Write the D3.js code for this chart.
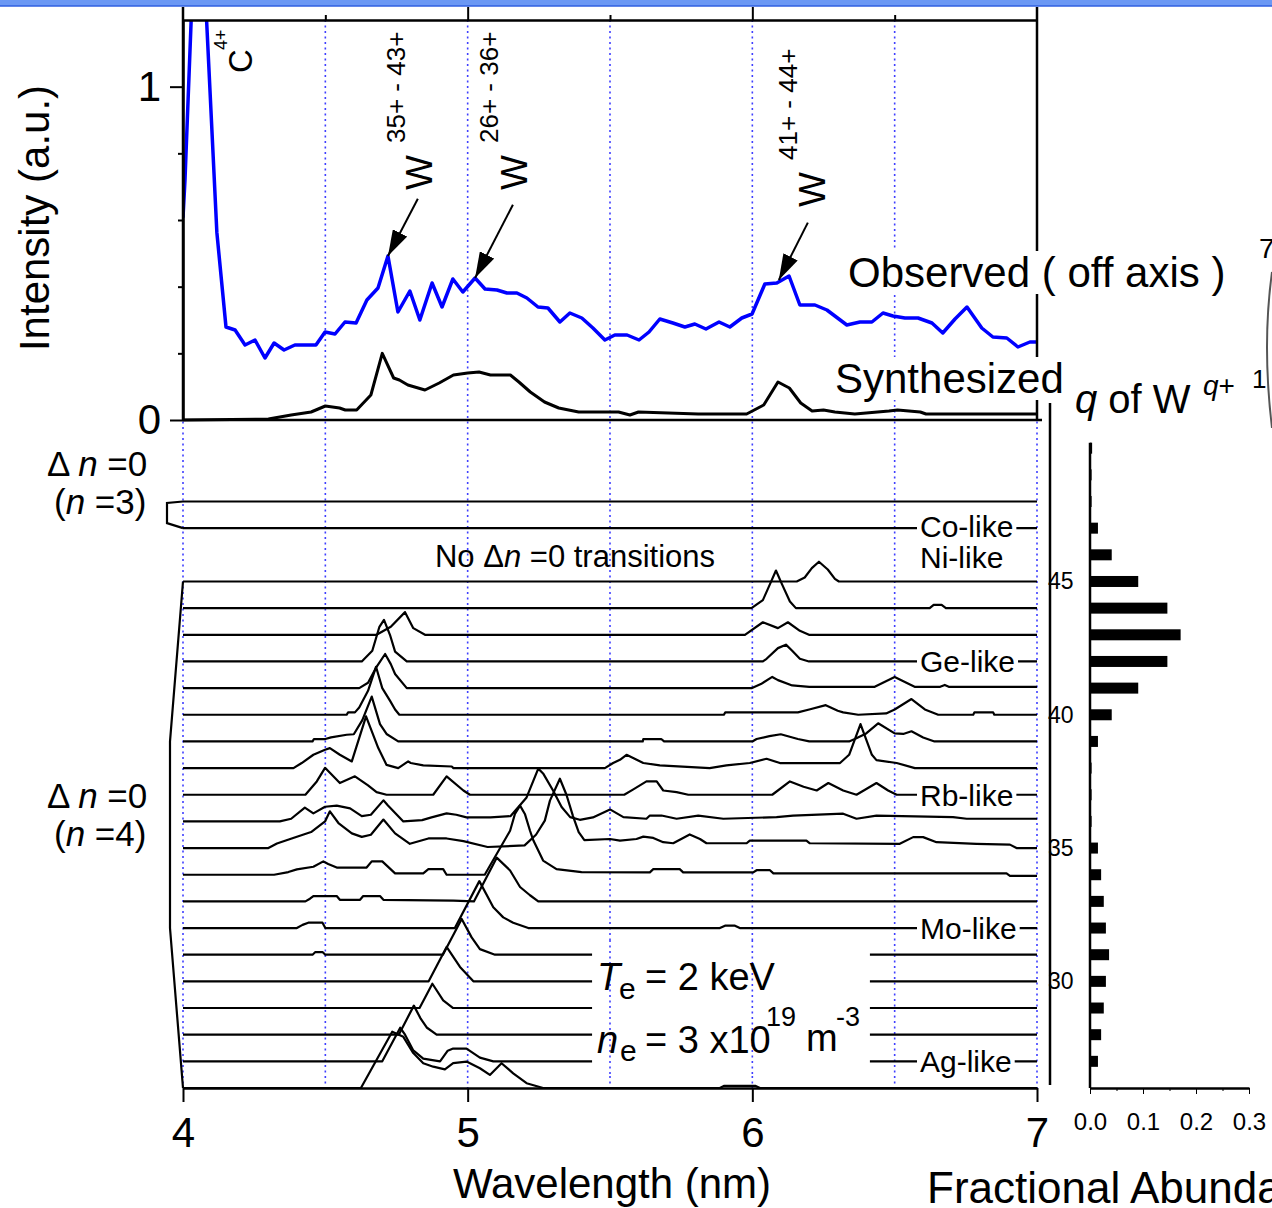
<!DOCTYPE html>
<html>
<head>
<meta charset="utf-8">
<script src="https://cdn.jsdelivr.net/npm/d3@7"></script>
<style>
  body { margin: 0; background: #fff; }
  svg { display: block; font-family: "Liberation Sans", Arial, sans-serif; }
</style>
</head>
<body>
<div id="chart"></div>
<script>
// ---------------- data ----------------
// observed spectrum (off axis), [wavelength nm, intensity a.u.]
const observed = [
  [4.000,0.607],[4.007,0.72],[4.040,1.45],[4.060,1.60],[4.080,1.25],[4.119,0.562],[4.151,0.279],
  [4.183,0.270],[4.218,0.225],[4.253,0.240],[4.288,0.186],[4.320,0.231],[4.355,0.210],[4.393,0.225],
  [4.430,0.225],[4.467,0.225],[4.499,0.264],[4.534,0.258],[4.569,0.294],[4.608,0.291],[4.646,0.360],
  [4.685,0.396],[4.720,0.492],[4.755,0.324],[4.797,0.387],[4.832,0.300],[4.875,0.411],[4.910,0.339],
  [4.948,0.423],[4.983,0.384],[5.026,0.426],[5.061,0.393],[5.103,0.390],[5.138,0.381],[5.173,0.381],
  [5.208,0.366],[5.247,0.339],[5.282,0.336],[5.324,0.294],[5.359,0.321],[5.401,0.306],[5.440,0.276],
  [5.482,0.240],[5.517,0.255],[5.560,0.255],[5.602,0.240],[5.637,0.264],[5.675,0.303],[5.721,0.291],
  [5.763,0.279],[5.798,0.288],[5.837,0.273],[5.883,0.294],[5.921,0.279],[5.963,0.306],[5.999,0.318],
  [6.044,0.408],[6.086,0.411],[6.129,0.432],[6.167,0.345],[6.220,0.345],[6.262,0.330],[6.332,0.285],
  [6.378,0.294],[6.420,0.294],[6.459,0.321],[6.494,0.312],[6.536,0.306],[6.582,0.306],[6.631,0.291],
  [6.669,0.261],[6.712,0.303],[6.754,0.339],[6.806,0.276],[6.845,0.249],[6.894,0.246],[6.933,0.219],
  [6.975,0.234],[7.000,0.234]
];

// synthesized spectrum
const synthesized = [
  [4.00,0.0],[4.30,0.003],[4.32,0.006],[4.38,0.015],[4.45,0.024],[4.50,0.042],[4.55,0.036],[4.57,0.030],
  [4.61,0.030],[4.66,0.075],[4.70,0.200],[4.74,0.126],[4.76,0.120],[4.79,0.105],[4.85,0.090],[4.90,0.111],
  [4.95,0.135],[5.00,0.141],[5.04,0.144],[5.08,0.135],[5.15,0.135],[5.18,0.114],[5.22,0.084],[5.27,0.054],
  [5.32,0.036],[5.39,0.024],[5.53,0.024],[5.57,0.015],[5.60,0.024],[5.81,0.018],[5.98,0.018],[6.04,0.045],
  [6.09,0.114],[6.13,0.096],[6.17,0.051],[6.21,0.027],[6.25,0.030],[6.29,0.024],[6.36,0.018],[6.48,0.027],
  [6.51,0.030],[6.59,0.024],[6.61,0.018],[7.00,0.018]
];

// arrows pointing at W features: [tail, tip] in [wavelength, intensity]
const arrowPairs = [
  [[4.825,0.664],[4.720,0.492]],
  [[5.159,0.646],[5.026,0.426]],
  [[6.195,0.592],[6.093,0.420]]
];

// calculated spectra per charge state q of W^q+ : [wavelength, height in baseline steps]
const w48 = [];
const w47 = [];
const w45 = [[6.156,0],[6.184,0.15],[6.209,0.5],[6.234,0.74],[6.265,0.45],[6.29,0.1],[6.304,0]];
const w44 = [[5.997,0],[6.037,0.3],[6.062,0.9],[6.083,1.41],[6.104,0.9],[6.132,0.25],[6.153,0],
  [6.623,0],[6.637,0.12],[6.665,0.12],[6.68,0]];
const w43 = [[4.68,0],[4.73,0.3],[4.78,0.85],[4.809,0.25],[4.85,0],[5.974,0],[6.037,0.47],[6.09,0.25],
  [6.125,0.47],[6.167,0.15],[6.199,0]];
const w42 = [[4.628,0],[4.665,0.4],[4.69,1.3],[4.706,1.56],[4.727,1.0],[4.745,0.37],[4.786,0],[6.037,0],
  [6.05,0.1],[6.09,0.5],[6.118,0.63],[6.14,0.4],[6.167,0.1],[6.199,0]];
const w41 = [[4.619,0],[4.65,0.2],[4.68,0.8],[4.71,1.28],[4.73,0.9],[4.745,0.53],[4.786,0],[5.999,0],
  [6.03,0.15],[6.07,0.42],[6.09,0.3],[6.14,0.1],[6.2,0.05],[6.43,0.05],[6.50,0.42],[6.57,0.05],[6.66,0.05],
  [6.676,0.12],[6.69,0.05],[7,0.05]];
const w40 = [[4.575,0],[4.58,0.09],[4.604,0.09],[4.619,0.27],[4.65,0.9],[4.678,1.8],[4.70,1.0],[4.727,0.53],
  [4.745,0.2],[4.76,0],[5.90,0],[5.905,0.09],[6.16,0.09],[6.20,0.2],[6.258,0.36],[6.30,0.15],[6.319,0.09],
  [6.372,0],[6.47,0.05],[6.50,0.2],[6.559,0.59],[6.606,0.2],[6.653,0],[6.776,0],[6.78,0.09],[6.846,0.09],[6.85,0]];
const w39 = [[4.455,0],[4.46,0.09],[4.50,0.09],[4.52,0.15],[4.575,0.25],[4.60,0.27],[4.63,0.8],[4.663,1.68],
  [4.692,0.65],[4.715,0.28],[4.756,0],[5.615,0],[5.617,0.09],[5.68,0.09],[5.69,0],[6.0,0],[6.015,0.09],
  [6.06,0.2],[6.10,0.27],[6.16,0.09],[6.20,0],[6.34,0],[6.36,0.09],[6.40,0.3],[6.442,0.68],[6.50,0.3],
  [6.53,0.28],[6.559,0.38],[6.6,0.15],[6.64,0]];
const w38 = [[4.388,0],[4.417,0.19],[4.458,0.5],[4.499,0.69],[4.516,0.75],[4.551,0.5],[4.593,0.25],
  [4.643,1.94],[4.686,0.75],[4.715,0.12],[4.756,0],[4.791,0.25],[4.80,0.19],[4.844,0.1],[4.944,0.06],
  [4.95,0],[5.482,0],[5.511,0.19],[5.535,0.31],[5.558,0.5],[5.617,0.19],[5.675,0.1],[5.85,0],[5.909,0.1],
  [5.991,0.19],[6.05,0.35],[6.097,0.19],[6.308,0.19],[6.34,0.5],[6.38,1.65],[6.42,0.5],[6.436,0.3],
  [6.507,0.19],[6.571,0]];
const w37 = [[4.43,0],[4.47,0.5],[4.499,1.01],[4.551,0.44],[4.604,0.69],[4.65,0.35],[4.68,0.1],[4.715,0],
  [4.879,0],[4.926,0.69],[4.985,0.16],[5.008,0],[5.55,0],[5.582,0.2],[5.628,0.5],[5.664,0.5],[5.687,0.16],
  [5.734,0.1],[5.775,0],[6.07,0],[6.132,0.5],[6.18,0.3],[6.226,0.16],[6.267,0.44],[6.319,0.16],[6.366,0],
  [6.436,0.44],[6.477,0.16],[6.507,0]];
const w36 = [[4.34,0],[4.38,0.1],[4.428,0.52],[4.458,0.3],[4.499,0.55],[4.54,0.59],[4.587,0.49],[4.628,0.2],
  [4.66,0.25],[4.704,0.79],[4.72,0.6],[4.774,0],[4.84,0.05],[4.873,0.15],[4.926,0.3],[4.96,0.25],[4.996,0.15],
  [5.08,0.15],[5.151,0.2],[5.207,0.9],[5.248,1.98],[5.265,1.8],[5.30,1.16],[5.33,0.54],[5.36,0.16],
  [5.394,0.06],[5.44,0.15],[5.50,0.45],[5.547,0.16],[5.628,0.1],[5.64,0.22],[5.681,0.22],[5.734,0.1],
  [5.81,0.22],[5.898,0.1],[6.085,0.16],[6.143,0.22],[6.319,0.29],[6.366,0.1],[6.436,0.22],[6.705,0.16],
  [6.753,0.1],[7,0.1]];
const w35 = [[4.30,0],[4.33,0.17],[4.387,0.38],[4.45,0.6],[4.499,1.0],[4.516,1.38],[4.546,0.94],[4.593,0.55],
  [4.628,0.42],[4.66,0.5],[4.704,1.07],[4.745,0.55],[4.797,0.16],[4.862,0.36],[4.926,0.36],[4.985,0.26],
  [5.07,0.04],[5.2,0.1],[5.24,0.5],[5.271,1.03],[5.289,1.78],[5.324,2.6],[5.347,2.0],[5.37,1.2],[5.39,0.6],
  [5.41,0.3],[5.5,0.34],[5.535,0.28],[5.593,0.34],[5.617,0.43],[5.652,0.38],[5.687,0.22],[5.722,0.18],
  [5.78,0.51],[5.816,0.34],[5.839,0.18],[5.98,0.18],[5.991,0.28],[6.19,0.28],[6.202,0.18],[6.518,0.16],
  [6.565,0.41],[6.6,0.41],[6.647,0.22],[6.787,0.16],[6.905,0.13],[6.928,0],[7,0]];
const w34 = [[4.32,0],[4.37,0.1],[4.40,0.2],[4.458,0.3],[4.493,0.5],[4.51,0.4],[4.54,0.27],[4.645,0.27],
  [4.663,0.5],[4.70,0.5],[4.745,0.05],[4.844,0.05],[4.862,0.21],[4.914,0.21],[4.926,0],[5.06,0],[5.149,1.65],
  [5.166,2.28],[5.184,2.59],[5.201,2.28],[5.219,1.65],[5.231,1.28],[5.265,0.53],[5.312,0.21],[5.40,0.1],
  [5.64,0.09],[5.652,0.21],[5.745,0.21],[5.757,0.09],[6.003,0.09],[6.015,0.17],[6.062,0.17],[6.074,0.05],
  [6.893,0.05],[6.905,-0.04],[7,-0.04]];
const w33 = [[4.43,0],[4.446,0.1],[4.458,0.2],[4.54,0.2],[4.551,0.06],[4.622,0.06],[4.633,0.2],[4.692,0.2],
  [4.704,0.06],[4.95,0.03],[5.022,0],[5.102,1.64],[5.149,1.16],[5.184,0.54],[5.219,0.23],[5.248,0]];
const w32 = [[4.40,0],[4.42,0.12],[4.44,0.2],[4.49,0.2],[4.50,0],[4.955,0],[5.041,1.76],[5.09,0.78],
  [5.125,0.4],[5.16,0.2],[5.213,0],[5.886,0],[5.904,0.09],[5.939,0.09],[5.956,0]];
const w31 = [[4.455,0],[4.465,0.1],[4.49,0.1],[4.50,0],[4.913,0],[4.979,1.34],[5.014,0.65],[5.043,0.21],[5.096,0]];
const w30 = [[4.863,0],[4.926,1.29],[4.973,0.54],[5.02,0]];
const w29 = [[4.831,0],[4.876,0.91],[4.914,0.29],[4.949,0]];
const w28 = [[4.758,0],[4.811,1.09],[4.835,0.6],[4.856,0.27],[4.891,0]];
const w27 = [[4.70,0],[4.763,1.26],[4.78,1.0],[4.809,0.41],[4.844,0.1],[4.903,0],[4.93,0.4],[4.949,0.48],
  [4.996,0.48],[5.043,0.14],[5.09,0]];
const w26 = [[4.625,0],[4.735,2.11],[4.774,1.92],[4.809,1.31],[4.844,0.93],[4.879,0.8],[4.92,0.7],
  [4.949,0.93],[4.996,0.99],[5.043,0.74],[5.078,0.49],[5.119,0.93],[5.16,0.55],[5.207,0.18],[5.265,0],
  [5.886,0],[5.90,0.08],[6.01,0.08],[6.027,0]];

const spectraQ = [48, 47, 45, 44, 43, 42, 41, 40, 39, 38, 37, 36, 35, 34, 33, 32, 31, 30, 29, 28, 27, 26];
const spectraPts = [w48, w47, w45, w44, w43, w42, w41, w40, w39, w38, w37, w36, w35, w34, w33, w32, w31,
  w30, w29, w28, w27, w26];

// isoelectronic sequence labels
const ionQ = [47, 46, 42, 37, 32, 27];
const ionNames = ["Co-like", "Ni-like", "Ge-like", "Rb-like", "Mo-like", "Ag-like"];

// fractional abundance of W^q+
const abundQ = [27, 28, 29, 30, 31, 32, 33, 34, 35, 36, 37, 38, 39, 40, 41, 42, 43, 44, 45, 46, 47, 48, 49, 50];
const abundFrac = [0.015, 0.021, 0.026, 0.030, 0.036, 0.030, 0.026, 0.021, 0.015, 0.003, 0.003, 0.003,
  0.015, 0.041, 0.091, 0.146, 0.171, 0.146, 0.091, 0.041, 0.015, 0.003, 0.003, 0.004];

const xTicks = [4, 5, 6, 7];
const xMinor = [4.5, 5.5, 6.5];
const yTicks = [0, 1];
const yMinor = [0.2, 0.4, 0.6, 0.8];
const qTicks = [30, 35, 40, 45];
const abTicks = [0, 0.1, 0.2, 0.3];
const abMinor = [0.05, 0.15, 0.25];

// ---------------- setup ----------------
const W = 1272, H = 1208;
const svg = d3.select("#chart").append("svg")
    .attr("width", W)
    .attr("height", H);

const x = d3.scaleLinear().domain([4, 7]).range([183, 1037]);
const yTop = d3.scaleLinear().domain([0, 1.2]).range([420, 20]);
const yQ = d3.scaleLinear().domain([26, 48]).range([1088, 501.5]);   // baseline of each q
const xAb = d3.scaleLinear().domain([0, 0.3]).range([1090, 1249]);

const gridColor = "#3f3fff";

// window strip at top of the screenshot
svg.append("rect").attr("x", 0).attr("y", 0).attr("width", W).attr("height", 6).attr("fill", "#6b98f4");
svg.append("line").attr("x1", 0).attr("x2", W).attr("y1", 6).attr("y2", 6).attr("stroke", "#2f5fe0").attr("stroke-width", 1.5);

// vertical dotted grid
const gridX = d3.range(4, 7.01, 0.5);
const drawGrid = (y1, y2, vals) => svg.append("g")
    .selectAll("line")
    .data(vals)
    .join("line")
    .attr("x1", d => x(d)).attr("x2", d => x(d))
    .attr("y1", y1).attr("y2", y2)
    .attr("stroke", gridColor)
    .attr("stroke-width", 1.6)
    .attr("stroke-dasharray", "2,3.5");
drawGrid(yTop(1.2), yQ(26), gridX);

// ---------------- stacked spectra ----------------
const full = pts => {
    const p = pts.slice();
    if (!p.length || p[0][0] > 4) p.unshift([4, 0]);
    if (p[p.length - 1][0] < 7) p.push([7, 0]);
    return p;
};
const specG = svg.append("g");
spectraQ.forEach((q, i) => {
    const line = d3.line().x(d => x(d[0])).y(d => yQ(q + d[1]));
    specG.append("path")
        .attr("d", line(full(spectraPts[i])))
        .attr("fill", "none")
        .attr("stroke", "#000")
        .attr("stroke-width", 2.2)
        .attr("stroke-linejoin", "round");
});

// brackets on the left
const bx = x(4);
specG.append("path")
    .attr("d", d3.line()([[bx, yQ(48)], [bx - 16, yQ(48) + 1.5], [bx - 16, yQ(47) - 5], [bx, yQ(47)]]))
    .attr("fill", "none").attr("stroke", "#000").attr("stroke-width", 2.2);
specG.append("path")
    .attr("d", d3.line()([[bx, yQ(45)], [bx - 13, yQ(39)], [bx - 13, yQ(32)], [bx, yQ(26)]]))
    .attr("fill", "none").attr("stroke", "#000").attr("stroke-width", 2.2);

// white box behind plasma parameters
const teX0 = x(5.437), teX1 = x(6.413);
svg.append("rect")
    .attr("x", teX0).attr("y", yQ(31.55))
    .attr("width", teX1 - teX0).attr("height", yQ(26.5) - yQ(31.55))
    .attr("fill", "#fff");
drawGrid(yQ(31.55), yQ(26.5), gridX.filter(d => x(d) > teX0 && x(d) < teX1));

// ---------------- top panel ----------------
svg.append("clipPath").attr("id", "topClip")
    .append("rect").attr("x", 183).attr("y", yTop(1.2)).attr("width", 854).attr("height", yTop(0) - yTop(1.2) + 2);

const topG = svg.append("g").attr("clip-path", "url(#topClip)");
const topLine = d3.line().x(d => x(d[0])).y(d => yTop(d[1]));

topG.append("path")
    .attr("d", topLine(synthesized))
    .attr("fill", "none").attr("stroke", "#000").attr("stroke-width", 3).attr("stroke-linejoin", "round");
topG.append("path")
    .attr("d", topLine(observed))
    .attr("fill", "none").attr("stroke", "#0000ff").attr("stroke-width", 3.5).attr("stroke-linejoin", "round");

// frame
const frame = svg.append("g").attr("stroke", "#000").attr("stroke-width", 2.5);
frame.append("line").attr("x1", x(4)).attr("x2", x(4)).attr("y1", 7).attr("y2", yTop(0));
frame.append("line").attr("x1", x(7)).attr("x2", x(7)).attr("y1", 7).attr("y2", yTop(0));
frame.append("line").attr("x1", x(4)).attr("x2", x(7) + 5).attr("y1", yTop(0)).attr("y2", yTop(0));

// left axis
const yAxisG = svg.append("g").attr("transform", `translate(${x(4)},0)`)
    .call(d3.axisLeft(yTop).tickValues(yTicks).tickSize(13).tickPadding(9).tickSizeOuter(0).tickFormat(d3.format("d")));
svg.append("g").attr("transform", `translate(${x(4)},0)`)
    .call(d3.axisLeft(yTop).tickValues(yMinor).tickSize(5).tickFormat(""))
    .call(g => g.select(".domain").remove());

// top axis ticks
svg.append("g").attr("transform", `translate(0,${yTop(1.2)})`)
    .call(d3.axisTop(x).tickValues([5, 6]).tickSize(13).tickSizeOuter(0).tickFormat(""));
svg.append("g").attr("transform", `translate(0,${yTop(1.2)})`)
    .call(d3.axisTop(x).tickValues(xMinor).tickSize(5).tickFormat(""))
    .call(g => g.select(".domain").remove());

// bottom wavelength axis
const xAxisG = svg.append("g").attr("transform", `translate(0,${yQ(26)})`)
    .call(d3.axisBottom(x).tickValues(xTicks).tickSize(14).tickPadding(15).tickSizeOuter(0).tickFormat(d3.format("d")));

[yAxisG, xAxisG].forEach(g => g.attr("font-size", 42).attr("font-family", null));
svg.selectAll(".domain").attr("stroke-width", 2.5);
svg.selectAll(".tick line").attr("stroke-width", 2);

// arrows
svg.append("defs").append("marker")
    .attr("id", "arrowHead")
    .attr("viewBox", "0 0 10 10")
    .attr("refX", 10).attr("refY", 5)
    .attr("markerUnits", "userSpaceOnUse")
    .attr("markerWidth", 26).attr("markerHeight", 16)
    .attr("preserveAspectRatio", "none")
    .attr("orient", "auto")
    .append("path").attr("d", "M0,0 L10,5 L0,10 z").attr("fill", "#000");

svg.append("g").selectAll("line")
    .data(arrowPairs)
    .join("line")
    .attr("x1", d => x(d[0][0])).attr("y1", d => yTop(d[0][1]))
    .attr("x2", d => x(d[1][0])).attr("y2", d => yTop(d[1][1]))
    .attr("stroke", "#000").attr("stroke-width", 2)
    .attr("marker-end", "url(#arrowHead)");

// ---------------- abundance panel ----------------
svg.append("line").attr("x1", 1050).attr("x2", 1050).attr("y1", 403).attr("y2", 1085)
    .attr("stroke", "#000").attr("stroke-width", 2.5);
svg.append("line").attr("x1", xAb(0)).attr("x2", xAb(0)).attr("y1", yQ(50.2)).attr("y2", yQ(26))
    .attr("stroke", "#000").attr("stroke-width", 2.5);

svg.append("g").selectAll("rect")
    .data(abundQ)
    .join("rect")
    .attr("x", xAb(0))
    .attr("y", q => yQ(q) - 5.5)
    .attr("width", (q, i) => xAb(abundFrac[i]) - xAb(0))
    .attr("height", 11)
    .attr("fill", "#000");

const abAxisG = svg.append("g").attr("transform", `translate(0,${yQ(26)})`)
    .call(d3.axisBottom(xAb).tickValues(abTicks).tickSize(6).tickPadding(19).tickSizeOuter(0).tickFormat(d3.format(".1f")));
abAxisG.attr("font-size", 24).attr("font-family", null);
abAxisG.select(".domain").attr("stroke-width", 2.5);
svg.append("g").attr("transform", `translate(0,${yQ(26)})`)
    .call(d3.axisBottom(xAb).tickValues(abMinor).tickSize(3).tickFormat(""))
    .call(g => g.select(".domain").remove());

const qAxisG = svg.append("g").attr("transform", "translate(1050,0)")
    .call(d3.axisRight(yQ).tickValues(qTicks).tickSize(0).tickPadding(-2))
    .call(g => g.select(".domain").remove());
qAxisG.attr("font-size", 23).attr("font-family", null);

// ---------------- labels ----------------
const boxed = (str, px, py, size) => {
    const t = svg.append("text").attr("x", px).attr("y", py).style("font-size", size + "px").text(str);
    const b = t.node().getBBox();
    svg.insert("rect", () => t.node())
        .attr("x", b.x - 3).attr("y", b.y + 2)
        .attr("width", b.width + 6).attr("height", b.height - 4)
        .attr("fill", "#fff");
    return t;
};

boxed("Observed ( off axis )", 848, 287, 42);
boxed("Synthesized", 835, 393, 42);

// Co-like and Ni-like sit close together, nudge them apart a little
const ionDy = [9, 13, 11, 11, 11, 11];
ionQ.forEach((q, i) => boxed(ionNames[i], 920, yQ(q) + ionDy[i], 30));

svg.append("text").attr("x", 575).attr("y", yQ(46) + 12).attr("text-anchor", "middle").style("font-size", "31px")
    .call(t => {
        t.append("tspan").text("No \u0394");
        t.append("tspan").style("font-style", "italic").text("n");
        t.append("tspan").text(" =0 transitions");
    });

// Δn labels
const deltaLabel = (n, y1, y2) => {
    svg.append("text").attr("x", 47).attr("y", y1).style("font-size", "35px")
        .call(t => {
            t.append("tspan").text("\u0394 ");
            t.append("tspan").style("font-style", "italic").text("n");
            t.append("tspan").text(" =0");
        });
    svg.append("text").attr("x", 54).attr("y", y2).style("font-size", "35px")
        .call(t => {
            t.append("tspan").text("(");
            t.append("tspan").style("font-style", "italic").text("n");
            t.append("tspan").text(" =" + n + ")");
        });
};
deltaLabel(3, 476, 514);
deltaLabel(4, 808, 846);

// plasma parameters
const txt = (str, px, py, size, italic) => svg.append("text").attr("x", px).attr("y", py)
    .style("font-size", size + "px").style("font-style", italic ? "italic" : null).text(str);
txt("T", 597, 990, 38, true);
txt("e", 619, 999, 30);
txt("= 2 keV", 645, 990, 38);
txt("n", 597, 1053, 38, true);
txt("e", 620, 1061, 30);
txt("= 3 x10", 645, 1053, 38);
txt("19", 766, 1026, 27);
txt("m", 806, 1051, 38);
txt("-3", 836, 1026, 27);

// rotated annotations
const vtxt = (str, px, py, size) => svg.append("text")
    .attr("transform", `translate(${px},${py}) rotate(-90)`)
    .style("font-size", size + "px").text(str);
vtxt("C", 252, 73, 33);
vtxt("4+", 227, 50, 18);
vtxt("W", 432, 190, 37);
vtxt("35+ - 43+", 405, 143, 26);
vtxt("W", 527, 190, 37);
vtxt("26+ - 36+", 498, 143, 26);
vtxt("W", 825, 207, 37);
vtxt("41+ - 44+", 797, 160, 26);

// axis titles
svg.append("text").attr("transform", "translate(49,218) rotate(-90)").attr("text-anchor", "middle")
    .style("font-size", "42px").text("Intensity (a.u.)");
svg.append("text").attr("x", 612).attr("y", 1198).attr("text-anchor", "middle")
    .style("font-size", "42px").text("Wavelength (nm)");
svg.append("text").attr("x", 927).attr("y", 1203).style("font-size", "44px").text("Fractional Abundance");

svg.append("text").attr("x", 1075).attr("y", 413).style("font-size", "40px")
    .call(t => {
        t.append("tspan").style("font-style", "italic").text("q");
        t.append("tspan").text(" of W");
    });
svg.append("text").attr("x", 1203).attr("y", 395).style("font-size", "28px")
    .call(t => {
        t.append("tspan").style("font-style", "italic").text("q");
        t.append("tspan").text("+");
    });

// cut-off bits at the right edge
txt("7", 1259, 258, 28);
txt("1", 1252, 388, 26);
svg.append("path").attr("d", "M1272,272 Q1262,345 1272,428")
    .attr("fill", "none").attr("stroke", "#555").attr("stroke-width", 2);
</script>
</body>
</html>
